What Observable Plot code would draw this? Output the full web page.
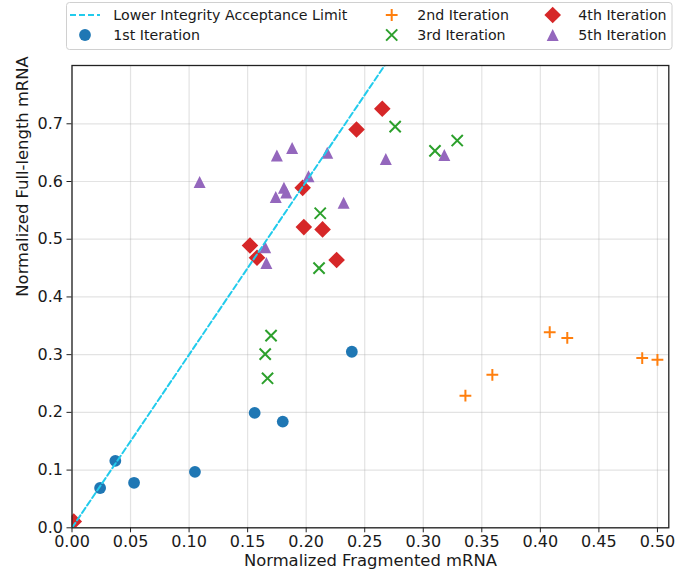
<!DOCTYPE html>
<html><head><meta charset="utf-8">
<script src="https://cdn.jsdelivr.net/npm/d3@7"></script>
<script src="https://cdn.jsdelivr.net/npm/@observablehq/plot@0.6"></script>
<style>
body{margin:0;background:#fff;}
#wrap{position:relative;width:691px;height:576px;overflow:hidden;}
#legend{position:absolute;left:0;top:0;}
</style></head><body><div id="wrap"><div id="chart"></div><svg id="legend" width="691" height="56"></svg></div>
<script>
// ---- data ----
const iter1X = [0.024, 0.037, 0.053, 0.105, 0.156, 0.180, 0.239];
const iter1Y = [0.069, 0.116, 0.078, 0.097, 0.199, 0.184, 0.305];
const iter2X = [0.336, 0.359, 0.408, 0.423, 0.487, 0.500];
const iter2Y = [0.229, 0.265, 0.339, 0.329, 0.294, 0.291];
const iter3X = [0.170, 0.165, 0.167, 0.212, 0.211, 0.276, 0.310, 0.329];
const iter3Y = [0.333, 0.301, 0.259, 0.545, 0.450, 0.695, 0.653, 0.671];
const iter4X = [0.0015, 0.152, 0.158, 0.197, 0.198, 0.214, 0.226, 0.243, 0.265];
const iter4Y = [0.011, 0.489, 0.468, 0.589, 0.521, 0.517, 0.464, 0.690, 0.726];
const iter5X = [0.109, 0.165, 0.166, 0.174, 0.175, 0.181, 0.183, 0.188, 0.202, 0.218, 0.232, 0.268, 0.318];
const iter5Y = [0.599, 0.486, 0.459, 0.573, 0.645, 0.589, 0.581, 0.658, 0.609, 0.650, 0.563, 0.639, 0.646];
const limitX = [0, 0.27];
const limitY = [0, 0.81];
const seriesNames = ["Lower Integrity Acceptance Limit", "1st Iteration", "2nd Iteration", "3rd Iteration", "4th Iteration", "5th Iteration"];
const xTicks = [0, 0.05, 0.10, 0.15, 0.20, 0.25, 0.30, 0.35, 0.40, 0.45, 0.50];
const xTickLabels = ["0.00", "0.05", "0.10", "0.15", "0.20", "0.25", "0.30", "0.35", "0.40", "0.45", "0.50"];
const yTicks = [0, 0.1, 0.2, 0.3, 0.4, 0.5, 0.6, 0.7];
const yTickLabels = ["0.0", "0.1", "0.2", "0.3", "0.4", "0.5", "0.6", "0.7"];
const xLabel = "Normalized Fragmented mRNA";
const yLabel = "Normalized Full-length mRNA";

// ---- styling ----
const colors = {line: "#22cbec", i1: "#1f77b4", i2: "#ff7f0e", i3: "#2ca02c", i4: "#d62728", i5: "#9467bd"};
const half = s => Math.sqrt(s / Math.PI);
const symTriangle = {draw(c, s) { const h = half(s); c.moveTo(0, -h); c.lineTo(h, h); c.lineTo(-h, h); c.closePath(); }};
const symDiamond = {draw(c, s) { const h = half(s); c.moveTo(0, -h); c.lineTo(h, 0); c.lineTo(0, h); c.lineTo(-h, 0); c.closePath(); }};
const symPlus = {draw(c, s) { const h = half(s); c.moveTo(-h, 0); c.lineTo(h, 0); c.moveTo(0, -h); c.lineTo(0, h); }};
const symTimes = {draw(c, s) { const h = half(s); c.moveTo(-h, -h); c.lineTo(h, h); c.moveTo(h, -h); c.lineTo(-h, h); }};
const symCircle = {draw(c, s) { const h = half(s); c.moveTo(h, 0); c.arc(0, 0, h, 0, 2 * Math.PI); }};
const R = {i1: 5.9, i2: 5.9, i3: 5.6, i4: 8.3, i5: 6.0};

const rows = (xs, ys) => xs.map((x, i) => ({x, y: ys[i]}));
const W = 691, H = 576;

const chart = Plot.plot({
  width: W, height: H,
  marginLeft: 71.5, marginRight: 22.7, marginTop: 65, marginBottom: 48.7,
  x: {domain: [0, 0.5097]},
  y: {domain: [0, 0.801]},
  style: {fontFamily: "DejaVu Sans", fontSize: "16px", color: "#1a1a1a", background: "white", overflow: "visible"},
  marks: [
    Plot.gridX(xTicks, {stroke: "#b0b0b0", strokeOpacity: 0.35, strokeWidth: 1.2}),
    Plot.gridY(yTicks, {stroke: "#b0b0b0", strokeOpacity: 0.35, strokeWidth: 1.2}),
    Plot.axisX(xTicks, {tickFormat: d => xTickLabels[xTicks.indexOf(d)], tickSize: 5, tickPadding: 3, label: null, stroke: "#222", fontSize: 16}),
    Plot.axisY(yTicks, {tickFormat: d => yTickLabels[yTicks.indexOf(d)], tickSize: 5, tickPadding: 4, label: null, stroke: "#222", fontSize: 16}),
    Plot.dot(rows(iter1X, iter1Y), {x: "x", y: "y", symbol: symCircle, r: R.i1, fill: colors.i1, stroke: "none", clip: true}),
    Plot.dot(rows(iter2X, iter2Y), {x: "x", y: "y", symbol: symPlus, r: R.i2, fill: "none", stroke: colors.i2, strokeWidth: 2, clip: true}),
    Plot.dot(rows(iter3X, iter3Y), {x: "x", y: "y", symbol: symTimes, r: R.i3, fill: "none", stroke: colors.i3, strokeWidth: 2, clip: true}),
    Plot.dot(rows(iter4X, iter4Y), {x: "x", y: "y", symbol: symDiamond, r: R.i4, fill: colors.i4, stroke: "none", clip: true}),
    Plot.dot(rows(iter5X, iter5Y), {x: "x", y: "y", symbol: symTriangle, r: R.i5, fill: colors.i5, stroke: "none", clip: true}),
    Plot.line(rows(limitX, limitY), {x: "x", y: "y", stroke: colors.line, strokeWidth: 2, strokeDasharray: "6,3", clip: true}),
    Plot.frame({stroke: "#222", strokeWidth: 1.3}),
    Plot.text([xLabel], {text: d => d, frameAnchor: "bottom", dy: 38, fontSize: 16.4, fill: "#1a1a1a"}),
    Plot.text([yLabel], {text: d => d, frameAnchor: "left", dx: -49.5, rotate: -90, fontSize: 16.4, fill: "#1a1a1a"})
  ]
});
document.getElementById("chart").appendChild(chart);

// ---- legend ----
const lg = d3.select("#legend");
lg.append("rect").attr("x", 66.5).attr("y", 2.5).attr("width", 605.5).attr("height", 47).attr("rx", 3)
  .attr("fill", "white").attr("fill-opacity", 0.85).attr("stroke", "#d0d0d0").attr("stroke-width", 1);
const items = [
  {name: seriesNames[0], mx: 85, tx: 113.3, y: 15, kind: "line"},
  {name: seriesNames[1], mx: 85, tx: 113.3, y: 35, sym: symCircle, r: R.i1, fill: colors.i1},
  {name: seriesNames[2], mx: 391.7, tx: 417.3, y: 15, sym: symPlus, r: R.i2, stroke: colors.i2},
  {name: seriesNames[3], mx: 391.7, tx: 417.3, y: 35, sym: symTimes, r: R.i3, stroke: colors.i3},
  {name: seriesNames[4], mx: 552.7, tx: 578.3, y: 15, sym: symDiamond, r: R.i4, fill: colors.i4},
  {name: seriesNames[5], mx: 552.7, tx: 578.3, y: 35, sym: symTriangle, r: R.i5, fill: colors.i5}
];
for (const it of items) {
  if (it.kind === "line") {
    lg.append("line").attr("x1", it.mx - 15).attr("x2", it.mx + 15).attr("y1", it.y).attr("y2", it.y)
      .attr("stroke", colors.line).attr("stroke-width", 2).attr("stroke-dasharray", "6,3");
  } else {
    lg.append("path").attr("transform", `translate(${it.mx},${it.y})`)
      .attr("d", d3.symbol(it.sym, Math.PI * it.r * it.r)())
      .attr("fill", it.fill || "none").attr("stroke", it.stroke || "none").attr("stroke-width", 2);
  }
  lg.append("text").attr("x", it.tx).attr("y", it.y).attr("dy", "0.35em")
    .attr("font-family", "DejaVu Sans").attr("font-size", 14.2).attr("fill", "#1a1a1a").text(it.name);
}
</script></body></html>
